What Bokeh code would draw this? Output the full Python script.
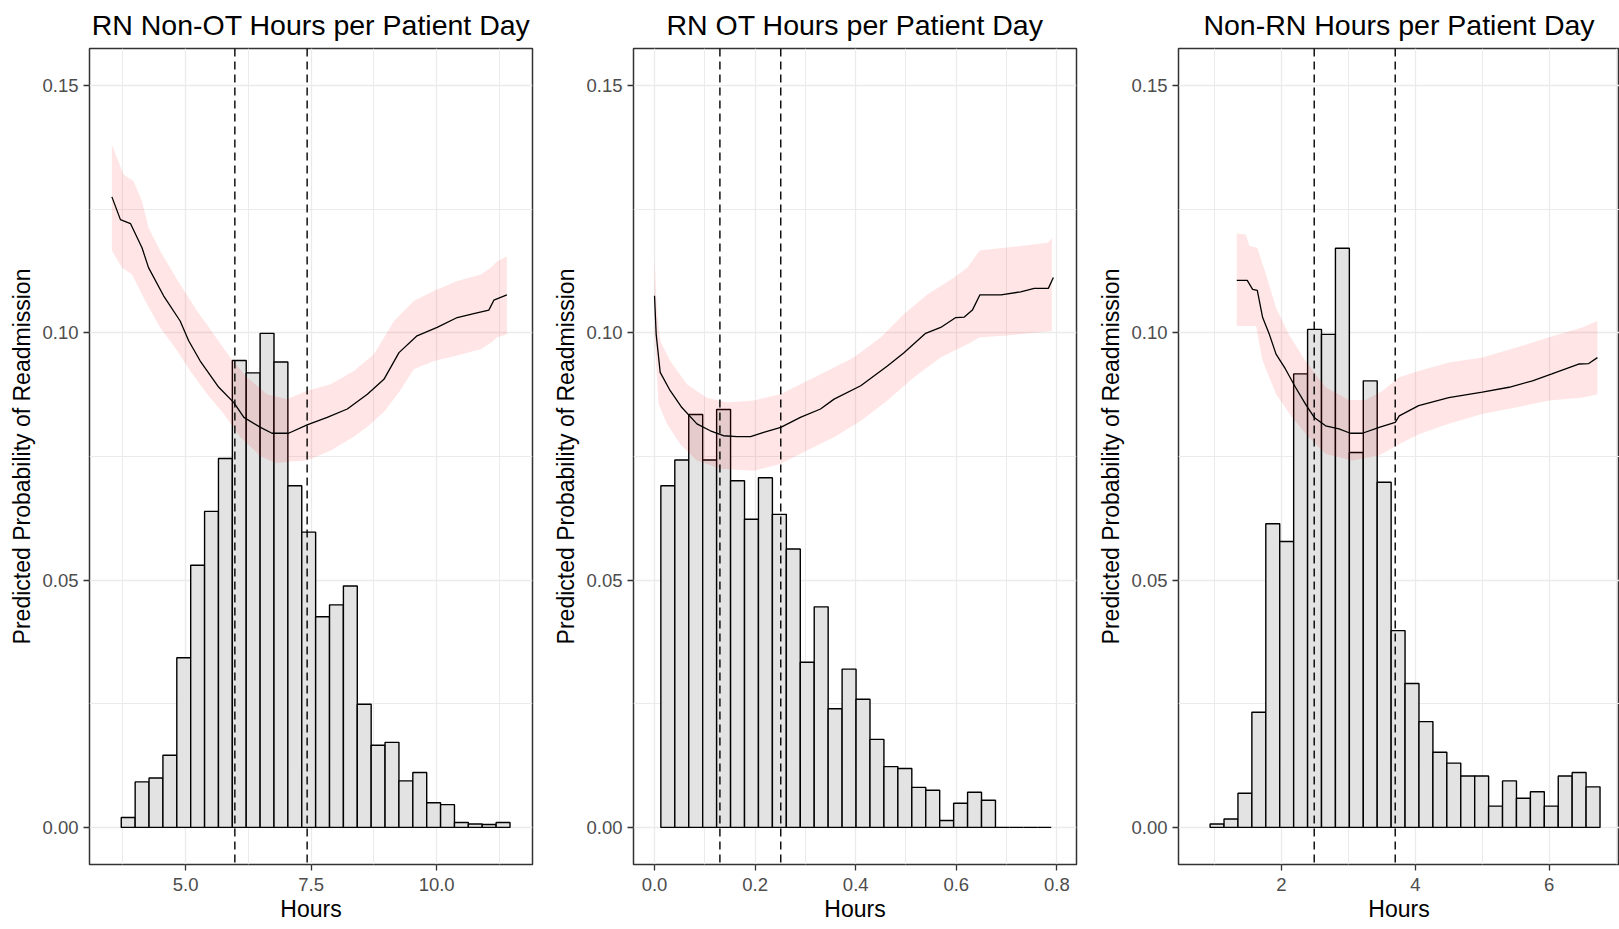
import numpy as np
from bokeh.plotting import figure
from bokeh.layouts import row
from bokeh.models import Span, FixedTicker, PrintfTickFormatter, Range1d
from bokeh.embed import file_html
from bokeh.resources import INLINE

# ---------------- data ----------------
titles = ["RN Non-OT Hours per Patient Day", "RN OT Hours per Patient Day", "Non-RN Hours per Patient Day"]
y_ticks = [0.0, 0.05, 0.10, 0.15]
y_minor = [0.025, 0.075, 0.125]

# Panel 1: RN Non-OT
x1_ticks = [5.0, 7.5, 10.0]
x1_minor = [3.75, 6.25, 8.75, 11.25]
x1_range = (3.084, 11.91)
hist1_start = 3.717
hist1_width = 0.2766
hist1_heights = [0.0020, 0.0092, 0.0100, 0.0146, 0.0343, 0.0530, 0.0639, 0.0746, 0.0944, 0.0919,
                 0.0999, 0.0941, 0.0691, 0.0597, 0.0426, 0.0450, 0.0488, 0.0249, 0.0166, 0.0172,
                 0.0094, 0.0111, 0.0050, 0.0046, 0.0010, 0.0007, 0.0006, 0.0010]
line1_x = [3.53, 3.70, 3.90, 4.13, 4.26, 4.56, 4.89, 5.06, 5.29, 5.66, 5.96, 6.16, 6.49, 6.72,
           7.05, 7.42, 7.82, 8.22, 8.62, 8.95, 9.25, 9.61, 10.01, 10.41, 10.74, 11.04, 11.14, 11.40]
line1_y = [0.1275, 0.1229, 0.1221, 0.1172, 0.1132, 0.1075, 0.1024, 0.0984, 0.0943, 0.0890, 0.0859,
           0.0829, 0.0809, 0.0797, 0.0797, 0.0814, 0.0829, 0.0846, 0.0876, 0.0906, 0.0960, 0.0994,
           0.1011, 0.1031, 0.1039, 0.1046, 0.1066, 0.1077]
upper1_x = [3.53, 3.76, 3.96, 4.13, 4.26, 4.49, 4.89, 5.23, 5.56, 5.89, 6.22, 6.62, 7.02, 7.42,
            7.89, 8.35, 8.75, 9.15, 9.55, 9.95, 10.41, 10.88, 11.08, 11.21, 11.40]
upper1_y = [0.1381, 0.1320, 0.1307, 0.1266, 0.1213, 0.1166, 0.1098, 0.1044, 0.0997, 0.0950, 0.0910,
            0.0876, 0.0866, 0.0883, 0.0896, 0.0923, 0.0957, 0.1024, 0.1065, 0.1085, 0.1105, 0.1118,
            0.1132, 0.1145, 0.1155]
lower1_x = [3.53, 3.73, 3.93, 4.23, 4.49, 4.83, 5.09, 5.43, 5.76, 6.09, 6.50, 6.80, 7.10, 7.42,
            7.89, 8.35, 8.62, 8.95, 9.25, 9.55, 9.95, 10.41, 10.88, 11.08, 11.21, 11.40]
lower1_y = [0.1166, 0.1132, 0.1118, 0.1058, 0.1011, 0.0964, 0.0923, 0.0876, 0.0836, 0.0789, 0.0750,
            0.0737, 0.0740, 0.0742, 0.0762, 0.0790, 0.0810, 0.0840, 0.0880, 0.0927, 0.0943, 0.0954,
            0.0967, 0.0980, 0.0991, 0.0997]
vlines1 = [5.98, 7.42]

# Panel 2: RN OT
x2_ticks = [0.0, 0.2, 0.4, 0.6, 0.8]
x2_minor = [0.1, 0.3, 0.5, 0.7]
x2_range = (-0.0418, 0.839)
hist2_start = 0.0126
hist2_width = 0.02772
hist2_heights = [0.0691, 0.0743, 0.0835, 0.0743, 0.0845, 0.0701, 0.0623, 0.0707, 0.0633, 0.0563,
                 0.0334, 0.0446, 0.0240, 0.0320, 0.0259, 0.0178, 0.0123, 0.0119, 0.0081, 0.0075,
                 0.0014, 0.0049, 0.0071, 0.0055, 0.0, 0.0, 0.0, 0.0]
line2_x = [0.0, 0.0033, 0.0113, 0.0312, 0.0544, 0.0843, 0.111, 0.137, 0.164, 0.191, 0.217, 0.251,
           0.290, 0.330, 0.357, 0.410, 0.463, 0.496, 0.539, 0.569, 0.599, 0.616, 0.632, 0.647,
           0.689, 0.728, 0.755, 0.783, 0.793]
line2_y = [0.1075, 0.0997, 0.0920, 0.0883, 0.0849, 0.0816, 0.0802, 0.0792, 0.0790, 0.0790, 0.0799,
           0.0809, 0.0829, 0.0846, 0.0866, 0.0893, 0.0933, 0.0960, 0.0999, 0.1011, 0.1031, 0.1032,
           0.1046, 0.1077, 0.1077, 0.1083, 0.1090, 0.1090, 0.1112]
upper2_x = [0.0, 0.0046, 0.0113, 0.0312, 0.0644, 0.104, 0.144, 0.197, 0.250, 0.290, 0.343, 0.396,
            0.450, 0.496, 0.543, 0.596, 0.622, 0.647, 0.695, 0.782, 0.790]
upper2_y = [0.1152, 0.1051, 0.0984, 0.0943, 0.0896, 0.0869, 0.0859, 0.0863, 0.0876, 0.0896, 0.0923,
            0.0950, 0.0991, 0.1038, 0.1078, 0.1112, 0.1132, 0.1167, 0.1172, 0.1182, 0.1192]
lower2_x = [0.0, 0.008, 0.0246, 0.0511, 0.0843, 0.131, 0.197, 0.250, 0.303, 0.357, 0.410, 0.463,
            0.516, 0.569, 0.622, 0.647, 0.695, 0.790]
lower2_y = [0.1000, 0.0856, 0.0816, 0.0775, 0.0742, 0.0725, 0.0721, 0.0735, 0.0762, 0.0789, 0.0822,
            0.0863, 0.0910, 0.0950, 0.0977, 0.0991, 0.0994, 0.1004]
vlines2 = [0.130, 0.251]

# Panel 3: Non-RN
x3_ticks = [2, 4, 6]
x3_minor = [1, 3, 5, 7]
x3_range = (0.463, 7.05)
hist3_start = 0.935
hist3_width = 0.208
hist3_heights = [0.0007, 0.0017, 0.0069, 0.0233, 0.0614, 0.0578, 0.0917, 0.1007, 0.0997, 0.1171,
                 0.0758, 0.0903, 0.0698, 0.0398, 0.0291, 0.0214, 0.0152, 0.0130, 0.0104, 0.0104,
                 0.0043, 0.0094, 0.0059, 0.0072, 0.0043, 0.0104, 0.0111, 0.0082]
line3_x = [1.333, 1.49, 1.57, 1.64, 1.72, 1.82, 1.92, 2.06, 2.21, 2.36, 2.49, 2.66, 2.86, 3.03,
           3.21, 3.46, 3.70, 3.76, 4.05, 4.50, 5.00, 5.40, 5.75, 6.04, 6.44, 6.59, 6.72]
line3_y = [0.1106, 0.1106, 0.1088, 0.1086, 0.1031, 0.0997, 0.0957, 0.0927, 0.0890, 0.0856, 0.0829,
           0.0812, 0.0806, 0.0797, 0.0797, 0.0809, 0.0819, 0.0832, 0.0853, 0.0869, 0.0880, 0.0890,
           0.0903, 0.0917, 0.0937, 0.0938, 0.0950]
upper3_x = [1.333, 1.47, 1.52, 1.64, 1.77, 1.92, 2.11, 2.36, 2.66, 3.01, 3.26, 3.51, 3.76, 4.05,
            4.50, 5.00, 5.50, 6.00, 6.49, 6.72]
upper3_y = [0.1201, 0.1199, 0.1176, 0.1172, 0.1118, 0.1051, 0.0997, 0.0943, 0.0890, 0.0864, 0.0864,
            0.0883, 0.0910, 0.0923, 0.0940, 0.0950, 0.0970, 0.0991, 0.1011, 0.1024]
lower3_x = [1.333, 1.62, 1.72, 1.92, 2.16, 2.41, 2.66, 3.06, 3.46, 3.76, 4.05, 4.50, 5.00, 5.50,
            6.00, 6.49, 6.72]
lower3_y = [0.1014, 0.1014, 0.0943, 0.0876, 0.0829, 0.0789, 0.0755, 0.0742, 0.0752, 0.0775, 0.0795,
            0.0816, 0.0836, 0.0849, 0.0863, 0.0869, 0.0876]
vlines3 = [2.49, 3.70]

FONT = "Liberation Sans"
FIG_H = 929


def make_panel(title, width, left_b, right_b, xr, xt, xm, xfmt, h_start, h_w, heights,
               lx, ly, ux, uy, dx, dy, vls):
    p = figure(width=width, height=FIG_H, output_backend="svg", toolbar_location=None,
               x_range=Range1d(*xr), y_range=Range1d(-0.0075, 0.1575),
               min_border_left=left_b, min_border_right=right_b,
               min_border_top=48, min_border_bottom=65, title=title)
    p.background_fill_color = "white"
    p.border_fill_color = "white"
    p.outline_line_color = "#333333"
    p.outline_line_width = 1.5
    p.title.text_font = FONT
    p.title.text_font_size = "28.5px"
    p.title.text_font_style = "normal"
    p.title.align = "center"
    p.title.vertical_align = "middle"
    p.title.text_color = "black"
    p.title.standoff = 13

    # axes
    p.xaxis.ticker = FixedTicker(ticks=xt, minor_ticks=xm)
    p.yaxis.ticker = FixedTicker(ticks=y_ticks, minor_ticks=y_minor)
    p.xaxis.formatter = PrintfTickFormatter(format=xfmt)
    p.yaxis.formatter = PrintfTickFormatter(format="%.2f")
    for ax in (p.xaxis, p.yaxis):
        ax.axis_line_color = None
        ax.major_tick_line_color = "#333333"
        ax.major_tick_line_width = 1.3
        ax.major_tick_out = 6
        ax.major_tick_in = 0
        ax.minor_tick_line_color = None
        ax.major_label_text_font = FONT
        ax.major_label_text_font_size = "18.5px"
        ax.major_label_text_color = "#4D4D4D"
        ax.axis_label_text_font = FONT
        ax.axis_label_text_font_size = "23px"
        ax.axis_label_text_font_style = "normal"
        ax.axis_label_text_color = "black"
    p.xaxis.axis_label = "Hours"
    p.yaxis.axis_label = "Predicted Probability of Readmission"
    p.xaxis.major_label_standoff = 7
    p.yaxis.major_label_standoff = 5
    p.xaxis.axis_label_standoff = 2
    p.yaxis.axis_label_standoff = 4

    for g in (p.xgrid, p.ygrid):
        g.grid_line_color = "#EBEBEB"
        g.grid_line_width = 1.3
        g.minor_grid_line_color = "#EBEBEB"
        g.minor_grid_line_width = 1.0

    # histogram
    heights = np.array(heights)
    left = h_start + h_w * np.arange(len(heights))
    p.quad(left=left, right=left + h_w, bottom=0, top=heights,
           fill_color="#E3E3E3", line_color="black", line_width=1.4)

    # confidence ribbon
    rx = list(ux) + list(dx)[::-1]
    ry = list(uy) + list(dy)[::-1]
    p.patch(rx, ry, fill_color="red", fill_alpha=0.1, line_color=None)

    # predicted line
    p.line(lx, ly, line_color="black", line_width=1.3)

    for v in vls:
        p.add_layout(Span(location=v, dimension="height", line_color="black",
                          line_width=1.4, line_dash="8 5"))
    return p


p1 = make_panel(titles[0], 534, 89, 2, x1_range, x1_ticks, x1_minor, "%.1f",
                hist1_start, hist1_width, hist1_heights, line1_x, line1_y,
                upper1_x, upper1_y, lower1_x, lower1_y, vlines1)
p2 = make_panel(titles[1], 544, 99, 2, x2_range, x2_ticks, x2_minor, "%.1f",
                hist2_start, hist2_width, hist2_heights, line2_x, line2_y,
                upper2_x, upper2_y, lower2_x, lower2_y, vlines2)
p3 = make_panel(titles[2], 541, 100, 0, x3_range, x3_ticks, x3_minor, "%d",
                hist3_start, hist3_width, hist3_heights, line3_x, line3_y,
                upper3_x, upper3_y, lower3_x, lower3_y, vlines3)

layout = row(p1, p2, p3)
open("out.html", "w").write(file_html(layout, INLINE))
